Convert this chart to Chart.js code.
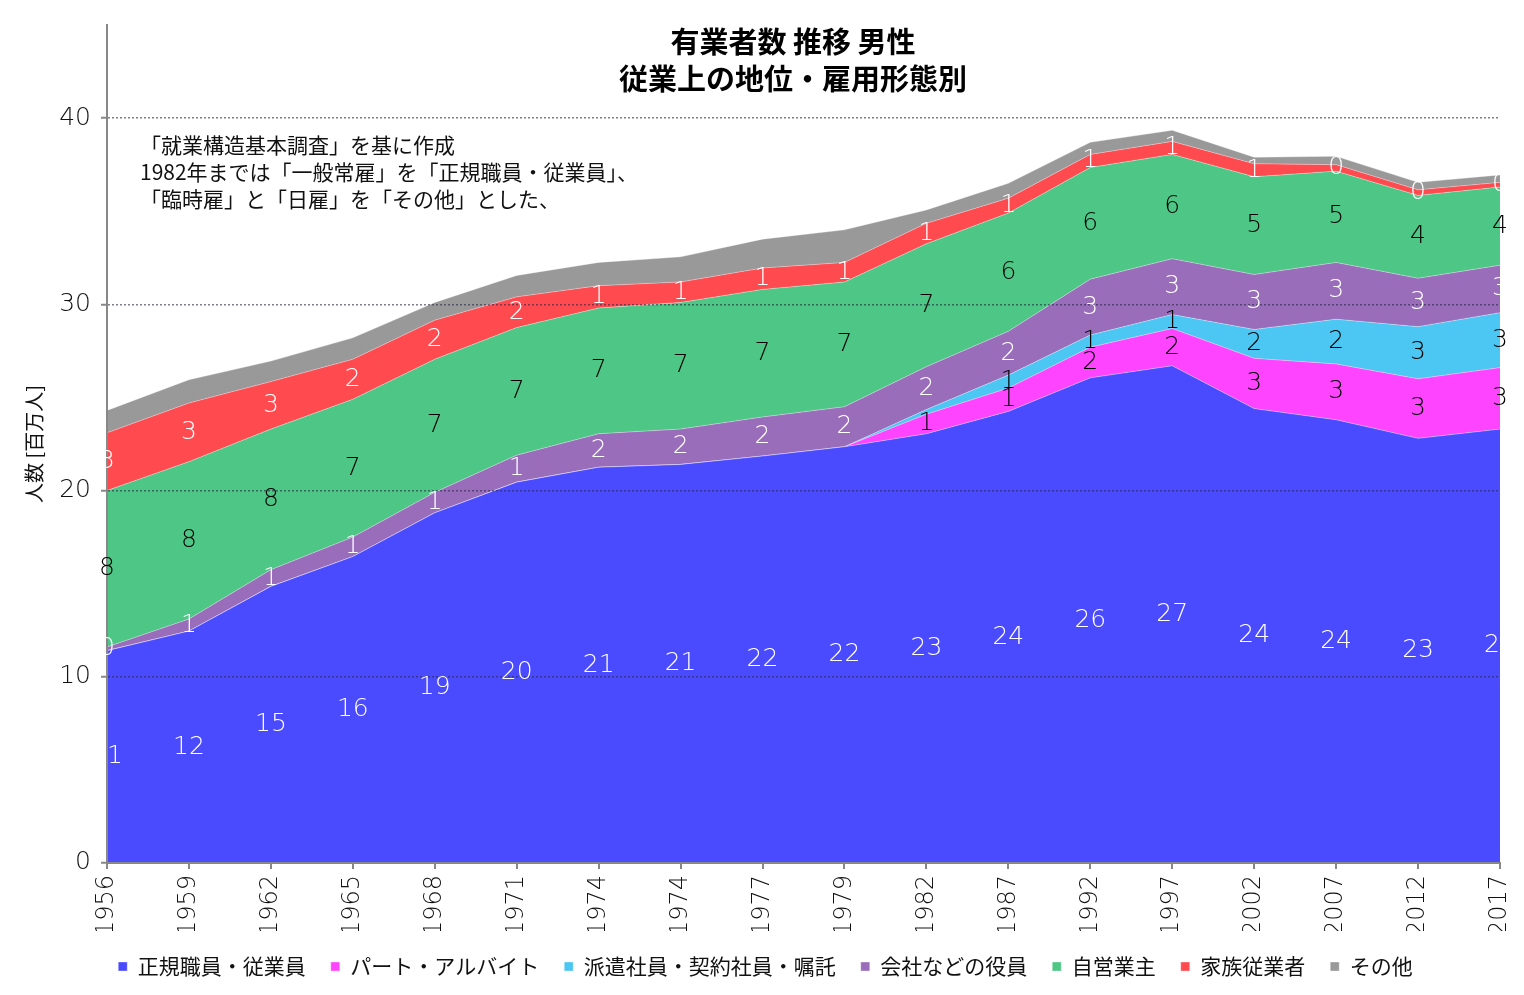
<!DOCTYPE html>
<html>
<head>
<meta charset="utf-8">
<script src="https://cdn.jsdelivr.net/npm/chart.js@4.4.0/dist/chart.umd.min.js"></script>
<style>
body{margin:0;background:#fff;}
</style>
</head>
<body>
<canvas id="myChart" width="1524" height="995"></canvas>
<script>
// 有業者数 男性 [百万人]
const years = ['1956','1959','1962','1965','1968','1971','1974','1974','1977','1979','1982','1987','1992','1997','2002','2007','2012','2017'];
const seiki  = [11.4, 12.45, 14.85, 16.45, 18.8, 20.45, 21.25, 21.4, 21.85, 22.35, 23.05, 24.25, 26.05, 26.7, 24.4, 23.8, 22.8, 23.3];
const part   = [0, 0, 0, 0, 0, 0, 0, 0, 0, 0, 1.05, 1.25, 1.65, 2.0, 2.7, 3.0, 3.2, 3.3];
const haken  = [0, 0, 0, 0, 0, 0, 0, 0, 0, 0, 0.25, 0.7, 0.65, 0.75, 1.55, 2.4, 2.8, 2.95];
const yakuin = [0.2, 0.65, 0.9, 1.05, 1.1, 1.45, 1.8, 1.9, 2.1, 2.15, 2.3, 2.35, 3.0, 3.0, 2.95, 3.05, 2.6, 2.55];
const jiei   = [8.4, 8.45, 7.55, 7.4, 7.15, 6.85, 6.75, 6.8, 6.85, 6.7, 6.6, 6.35, 6.0, 5.6, 5.25, 4.9, 4.45, 4.2];
const kazoku = [3.1, 3.15, 2.55, 2.15, 2.1, 1.65, 1.2, 1.1, 1.15, 1.05, 1.1, 0.8, 0.7, 0.7, 0.7, 0.35, 0.3, 0.25];
const sonota = [1.2, 1.25, 1.1, 1.15, 0.95, 1.15, 1.25, 1.35, 1.55, 1.75, 0.72, 0.8, 0.65, 0.6, 0.35, 0.45, 0.4, 0.4];

const names  = ['正規職員・従業員','パート・アルバイト','派遣社員・契約社員・嘱託','会社などの役員','自営業主','家族従業者','その他'];
const series = [seiki, part, haken, yakuin, jiei, kazoku, sonota];
const colors = ['#4a4aff','#ff44ff','#4cc6f2','#9a6dbb','#4dc686','#ff4a50','#999999'];
const labelColors = ['#fff','#000','#000','#fff','#000','#fff',null];
// 1982年の派遣等はラベルなし
const noLabel = {2: [10]};

const FONT = '"Noto Sans CJK JP", "Noto Sans", sans-serif';
const NUMFONT = '"DejaVu Sans", sans-serif';

const datasets = series.map(function(d, i){
	return {
		label: names[i],
		data: d,
		backgroundColor: colors[i],
		borderColor: 'rgba(255,255,255,0.35)',
		borderWidth: 1,
		fill: i == 0 ? 'origin' : '-1',
		pointRadius: 0,
		tension: 0
	};
});

const overlay = {
	id: 'overlay',
	afterDraw(chart){
		const ctx = chart.ctx;
		const y = chart.scales.y;
		ctx.save();
		// data labels
		ctx.font = '200 25px ' + NUMFONT;
		ctx.textAlign = 'center';
		ctx.textBaseline = 'middle';
		const sums = years.map(function(){ return 0; });
		chart.data.datasets.forEach(function(ds, i){
			const meta = chart.getDatasetMeta(i);
			ds.data.forEach(function(v, j){
				const bottom = sums[j];
				sums[j] += v;
				if (!labelColors[i] || !v) return;
				if (noLabel[i] && noLabel[i].indexOf(j) >= 0) return;
				ctx.fillStyle = labelColors[i];
				ctx.fillText(Math.round(v), meta.data[j].x, y.getPixelForValue(bottom + v / 2));
			});
		});
		// title
		ctx.fillStyle = '#000';
		ctx.font = 'bold 29px ' + FONT;
		ctx.fillText('有業者数 推移 男性', 793, 42);
		ctx.fillText('従業上の地位・雇用形態別', 793, 79);
		// note
		ctx.textAlign = 'left';
		ctx.font = '21px ' + FONT;
		ctx.fillStyle = '#111';
		ctx.fillText('「就業構造基本調査」を基に作成', 140, 145);
		ctx.fillText('1982年までは「一般常雇」を「正規職員・従業員」、', 140, 172);
		ctx.fillText('「臨時雇」と「日雇」を「その他」とした、', 140, 199);
		ctx.restore();
	}
};

const ctx = document.getElementById('myChart').getContext('2d');
const myChart = new Chart(ctx, {
	type: 'line',
	data: { labels: years, datasets: datasets },
	options: {
		responsive: false,
		animation: false,
		layout: { padding: { top: 22, right: 24, bottom: 8, left: 31 } },
		plugins: {
			legend: {
				position: 'bottom',
				labels: { boxWidth: 9, boxHeight: 9, padding: 25, color: '#111', font: { family: FONT, size: 21 } }
			},
			tooltip: { enabled: false }
		},
		scales: {
			x: {
				offset: false,
				afterFit: function(axis){ axis.paddingLeft = 0; axis.paddingRight = 0; axis.height -= 11; },
				grid: { display: true, drawOnChartArea: false, drawTicks: true, tickLength: 6, color: '#888', lineWidth: 2 },
				border: { display: true, color: '#888', width: 2, z: 2 },
				ticks: { minRotation: 90, maxRotation: 90, autoSkip: false, padding: 6, color: '#111', font: { family: NUMFONT, size: 24, weight: 200 } }
			},
			y: {
				stacked: true,
				min: 0,
				max: 45,
				afterBuildTicks: function(axis){
					axis.ticks = axis.ticks.filter(function(t){ return t.value % 10 == 0; });
				},
				afterFit: function(axis){ axis.width = 76; },
				grid: {
					z: 1,
					color: function(c){ return c.tick && c.tick.value == 0 ? 'rgba(0,0,0,0)' : 'rgba(40,40,70,0.6)'; },
					lineWidth: 1.5,
					tickColor: '#888',
					tickLength: 6,
					tickBorderDash: [],
					tickWidth: 2
				},
				border: { display: true, color: '#888', width: 2, dash: [2, 2], z: 2 },
				ticks: { stepSize: 10, padding: 10, color: '#111', font: { family: NUMFONT, size: 25, weight: 200 } },
				title: { display: true, text: '人数 [百万人]', color: '#111', padding: { top: -9, bottom: 8 }, font: { family: FONT, size: 20 } }
			}
		}
	},
	plugins: [overlay]
});
</script>
</body>
</html>
